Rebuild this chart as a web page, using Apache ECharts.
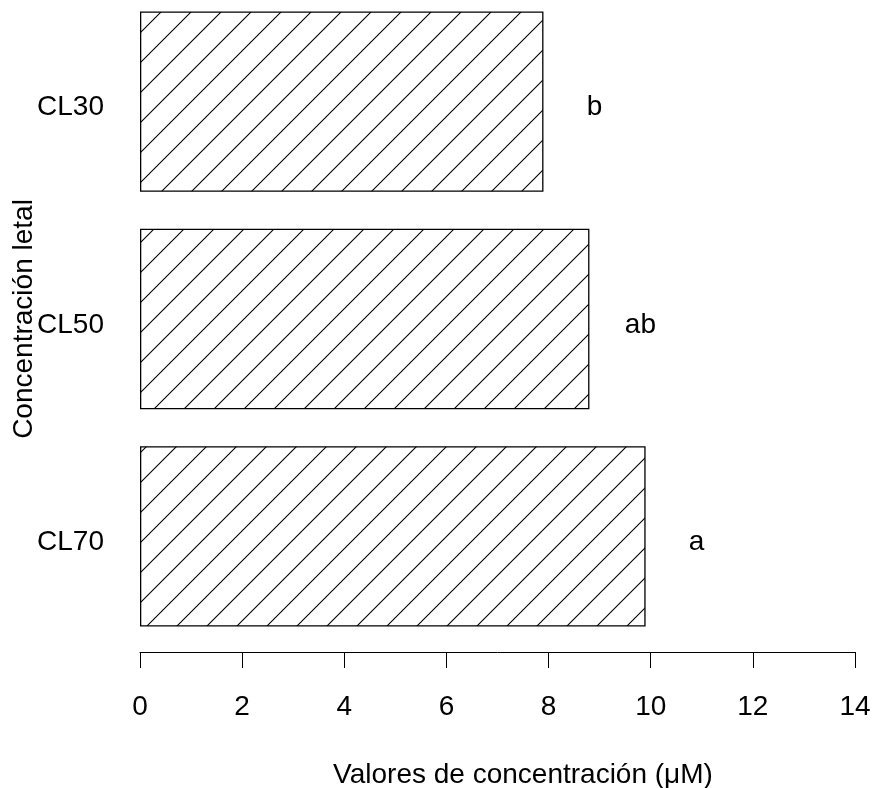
<!DOCTYPE html>
<html>
<head>
<meta charset="utf-8">
<script src="https://cdn.jsdelivr.net/npm/echarts@6/dist/echarts.min.js"></script>
<style>
	html, body { margin: 0; padding: 0; background: #fff; }
	#main { width: 876px; height: 788px; }
</style>
</head>
<body>
<div id="main"></div>
<script>
// datos
var categorias = ['CL30', 'CL50', 'CL70'];
var valores = [7.9, 8.8, 9.9];
var letras = ['b', 'ab', 'a'];
var ticksX = [0, 2, 4, 6, 8, 10, 12, 14];

// patron de rayado diagonal (45 grados, cada 30 px)
var hatch = function() {
	var c = document.createElement('canvas');
	c.width = 30;
	c.height = 30;
	var ctx = c.getContext('2d');
	ctx.fillStyle = '#fff';
	ctx.fillRect(0, 0, 30, 30);
	ctx.strokeStyle = '#000';
	ctx.lineWidth = 1.1;
	ctx.beginPath();
	[-7, 23, 53].forEach(function(k) {
		ctx.moveTo(-3, k + 3);
		ctx.lineTo(k + 3, -3);
	});
	ctx.stroke();
	return c;
}();

var chart = echarts.init(document.getElementById('main'));
var fuente = 'Liberation Sans, Arial, sans-serif';
var option = {
	backgroundColor: '#fff',
	animation: false,
	grid: {
		left: 140,
		right: 21,
		top: -7,
		bottom: 143,
		outerBoundsMode: 'none'
	},
	xAxis: {
		type: 'value',
		min: ticksX[0],
		max: ticksX[ticksX.length - 1],
		interval: 2,
		offset: 7,
		axisLine: { show: true, lineStyle: { color: '#000', width: 1 } },
		axisTick: { show: true, length: 16, lineStyle: { color: '#000' } },
		axisLabel: { color: '#000', fontSize: 28, fontFamily: fuente, margin: 41 },
		splitLine: { show: false }
	},
	yAxis: {
		type: 'category',
		inverse: true,
		data: categorias,
		name: 'Concentración letal',
		nameLocation: 'middle',
		nameGap: 102,
		nameMoveOverlap: false,
		nameTextStyle: { color: '#000', fontSize: 28, fontFamily: fuente },
		axisLine: { show: false },
		axisTick: { show: false },
		axisLabel: {
			margin: 36,
			formatter: function(v) {
				return '{c|' + v + '}';
			},
			rich: {
				c: { color: '#000', fontSize: 28, fontFamily: fuente, padding: [12, 0, 0, 0] }
			}
		}
	},
	graphic: [{
		type: 'text',
		x: 523,
		y: 775,
		style: {
			text: 'Valores de concentración (μM)',
			fill: '#000',
			font: '28px ' + fuente,
			align: 'center',
			verticalAlign: 'middle'
		}
	}],
	series: [{
		type: 'bar',
		data: valores,
		barCategoryGap: '17%',
		itemStyle: {
			color: { image: hatch, repeat: 'repeat' },
			borderColor: '#000',
			borderWidth: 1.3
		},
		label: {
			show: true,
			position: 'right',
			distance: 51,
			align: 'center',
			offset: [0, 6],
			color: '#000',
			fontSize: 28,
			fontFamily: fuente,
			formatter: function(p) {
				return letras[p.dataIndex];
			}
		}
	}]
};
chart.setOption(option);
</script>
</body>
</html>
